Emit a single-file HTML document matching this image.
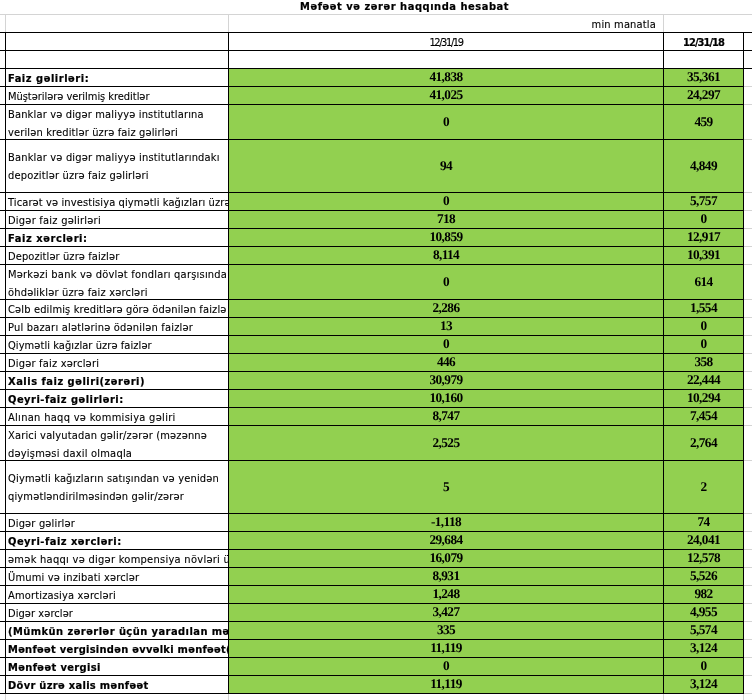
<!DOCTYPE html>
<html lang="az"><head><meta charset="utf-8"><title>Mənfəət və zərər haqqında hesabat</title>
<style>
html,body{margin:0;padding:0;background:#fff}
body{width:752px;height:700px;position:relative;overflow:hidden;-webkit-text-stroke:0.1px #000;font-family:"DejaVu Sans Condensed","DejaVu Sans","Liberation Sans",sans-serif;font-size:11px;color:#000}
div{position:absolute;box-sizing:border-box}
.g{background:#92d050}
.hl{height:1px;background:#000;left:0}
.vl{width:1px;background:#000}
.gh{height:1px;background:#d4d4d4}
.gv{width:1px;background:#d4d4d4}
.t{left:6px;width:222px;overflow:hidden;white-space:nowrap;line-height:17px;padding-left:2px;letter-spacing:0.17px;word-spacing:0px}
.b{-webkit-text-stroke:0.2px #000;font-weight:bold;letter-spacing:0.42px;word-spacing:0px}
.n{-webkit-text-stroke:0;font-family:"Liberation Serif",serif;font-weight:bold;font-size:13.3px;text-align:center;line-height:17px;white-space:nowrap;letter-spacing:-0.6px;text-rendering:geometricPrecision}
.n1{left:229px;width:434px}
.n2{left:664px;width:79px}

</style></head><body>
<div class="g" style="left:229px;top:69px;width:434px;height:624px"></div>
<div class="g" style="left:664px;top:69px;width:79px;height:624px"></div>
<div class="gh" style="left:0;top:14px;width:752px"></div>
<div class="gv" style="left:5px;top:15px;height:17px"></div>
<div class="gv" style="left:228px;top:15px;height:17px"></div>
<div class="gv" style="left:663px;top:15px;height:17px"></div>
<div class="gv" style="left:5px;top:694px;height:6px"></div>
<div class="gv" style="left:228px;top:694px;height:6px"></div>
<div class="gv" style="left:663px;top:694px;height:6px"></div>
<div class="gv" style="left:743px;top:694px;height:6px"></div>
<div class="gh" style="left:744px;top:86px;width:8px"></div>
<div class="gh" style="left:744px;top:104px;width:8px"></div>
<div class="gh" style="left:744px;top:139px;width:8px"></div>
<div class="gh" style="left:744px;top:192px;width:8px"></div>
<div class="gh" style="left:744px;top:210px;width:8px"></div>
<div class="gh" style="left:744px;top:228px;width:8px"></div>
<div class="gh" style="left:744px;top:246px;width:8px"></div>
<div class="gh" style="left:744px;top:264px;width:8px"></div>
<div class="gh" style="left:744px;top:299px;width:8px"></div>
<div class="gh" style="left:744px;top:317px;width:8px"></div>
<div class="gh" style="left:744px;top:335px;width:8px"></div>
<div class="gh" style="left:744px;top:353px;width:8px"></div>
<div class="gh" style="left:744px;top:371px;width:8px"></div>
<div class="gh" style="left:744px;top:389px;width:8px"></div>
<div class="gh" style="left:744px;top:407px;width:8px"></div>
<div class="gh" style="left:744px;top:425px;width:8px"></div>
<div class="gh" style="left:744px;top:460px;width:8px"></div>
<div class="gh" style="left:744px;top:513px;width:8px"></div>
<div class="gh" style="left:744px;top:531px;width:8px"></div>
<div class="gh" style="left:744px;top:549px;width:8px"></div>
<div class="gh" style="left:744px;top:567px;width:8px"></div>
<div class="gh" style="left:744px;top:585px;width:8px"></div>
<div class="gh" style="left:744px;top:603px;width:8px"></div>
<div class="gh" style="left:744px;top:621px;width:8px"></div>
<div class="gh" style="left:744px;top:639px;width:8px"></div>
<div class="gh" style="left:744px;top:657px;width:8px"></div>
<div class="gh" style="left:744px;top:675px;width:8px"></div>
<div class="gh" style="left:744px;top:693px;width:8px"></div>
<div class="hl" style="top:32px;width:752px"></div>
<div class="hl" style="top:50px;width:752px"></div>
<div class="hl" style="top:68px;width:752px"></div>
<div class="hl" style="top:86px;width:744px"></div>
<div class="hl" style="top:104px;width:744px"></div>
<div class="hl" style="top:139px;width:744px"></div>
<div class="hl" style="top:192px;width:744px"></div>
<div class="hl" style="top:210px;width:744px"></div>
<div class="hl" style="top:228px;width:744px"></div>
<div class="hl" style="top:246px;width:744px"></div>
<div class="hl" style="top:264px;width:744px"></div>
<div class="hl" style="top:299px;width:744px"></div>
<div class="hl" style="top:317px;width:744px"></div>
<div class="hl" style="top:335px;width:744px"></div>
<div class="hl" style="top:353px;width:744px"></div>
<div class="hl" style="top:371px;width:744px"></div>
<div class="hl" style="top:389px;width:744px"></div>
<div class="hl" style="top:407px;width:744px"></div>
<div class="hl" style="top:425px;width:744px"></div>
<div class="hl" style="top:460px;width:744px"></div>
<div class="hl" style="top:513px;width:744px"></div>
<div class="hl" style="top:531px;width:744px"></div>
<div class="hl" style="top:549px;width:744px"></div>
<div class="hl" style="top:567px;width:744px"></div>
<div class="hl" style="top:585px;width:744px"></div>
<div class="hl" style="top:603px;width:744px"></div>
<div class="hl" style="top:621px;width:744px"></div>
<div class="hl" style="top:639px;width:744px"></div>
<div class="hl" style="top:657px;width:744px"></div>
<div class="hl" style="top:675px;width:744px"></div>
<div class="hl" style="top:693px;width:744px"></div>
<div class="vl" style="left:5px;top:32px;height:662px"></div>
<div class="vl" style="left:228px;top:32px;height:662px"></div>
<div class="vl" style="left:663px;top:32px;height:662px"></div>
<div class="vl" style="left:743px;top:32px;height:662px"></div>
<div style="left:300px;top:0px;font-weight:bold;-webkit-text-stroke:0.2px #000;white-space:nowrap;line-height:13px;letter-spacing:0.54px;word-spacing:0px">Məfəət və zərər haqqında hesabat</div>
<div style="left:500px;width:156px;top:16px;text-align:right;white-space:nowrap;line-height:17px;letter-spacing:0.17px">min manatla</div>
<div style="left:229px;width:434px;top:34px;text-align:center;white-space:nowrap;line-height:17px;letter-spacing:-1.4px;padding-left:0px">12/31/19</div>
<div style="left:664px;width:79px;top:34px;text-align:center;white-space:nowrap;line-height:17px;font-weight:bold;-webkit-text-stroke:0.2px #000;letter-spacing:-0.95px;padding-left:0px">12/31/18</div>
<div class="t b" style="top:70px"><span style="letter-spacing:0.535px">Faiz gəlirləri:</span></div>
<div class="n n1" style="top:68px">41,838</div><div class="n n2" style="top:68px">35,361</div>
<div class="t" style="top:88px"><span style="letter-spacing:-0.037px">Müştərilərə verilmiş kreditlər</span></div>
<div class="n n1" style="top:86px">41,025</div><div class="n n2" style="top:86px">24,297</div>
<div class="t" style="top:105.5px;line-height:18px"><span style="letter-spacing:0.16px">Banklar və digər maliyyə institutlarına</span><br><span style="letter-spacing:0.142px">verilən kreditlər üzrə faiz gəlirləri</span></div>
<div class="n n1" style="top:112.5px">0</div><div class="n n2" style="top:112.5px">459</div>
<div class="t" style="top:148.5px;line-height:18px"><span style="letter-spacing:0.175px">Banklar və digər maliyyə institutlarındakı</span><br><span style="letter-spacing:0.17px">depozitlər üzrə faiz gəlirləri</span></div>
<div class="n n1" style="top:156.5px">94</div><div class="n n2" style="top:156.5px">4,849</div>
<div class="t" style="top:194px"><span style="letter-spacing:0.115px">Ticarət və investisiya qiymətli kağızları üzrə faizlər</span></div>
<div class="n n1" style="top:192px">0</div><div class="n n2" style="top:192px">5,757</div>
<div class="t" style="top:212px"><span style="letter-spacing:0.234px">Digər faiz gəlirləri</span></div>
<div class="n n1" style="top:210px">718</div><div class="n n2" style="top:210px">0</div>
<div class="t b" style="top:230px"><span style="letter-spacing:0.573px">Faiz xərcləri:</span></div>
<div class="n n1" style="top:228px">10,859</div><div class="n n2" style="top:228px">12,917</div>
<div class="t" style="top:248px"><span style="letter-spacing:0.097px">Depozitlər üzrə faizlər</span></div>
<div class="n n1" style="top:246px">8,114</div><div class="n n2" style="top:246px">10,391</div>
<div class="t" style="top:265.5px;line-height:18px"><span style="letter-spacing:0.219px">Mərkəzi bank və dövlət fondları qarşısında</span><br><span style="letter-spacing:0.184px">öhdəliklər üzrə faiz xərcləri</span></div>
<div class="n n1" style="top:272.5px">0</div><div class="n n2" style="top:272.5px">614</div>
<div class="t" style="top:301px"><span style="letter-spacing:0.147px">Cəlb edilmiş kreditlərə görə ödənilən faizl<span style="letter-spacing:1.6px">ə</span>r</span></div>
<div class="n n1" style="top:299px">2,286</div><div class="n n2" style="top:299px">1,554</div>
<div class="t" style="top:319px"><span style="letter-spacing:0.197px">Pul bazarı alətlərinə ödənilən faizlər</span></div>
<div class="n n1" style="top:317px">13</div><div class="n n2" style="top:317px">0</div>
<div class="t" style="top:337px"><span style="letter-spacing:0.067px">Qiymətli kağızlar üzrə faizlər</span></div>
<div class="n n1" style="top:335px">0</div><div class="n n2" style="top:335px">0</div>
<div class="t" style="top:355px"><span style="letter-spacing:0.192px">Digər faiz xərcləri</span></div>
<div class="n n1" style="top:353px">446</div><div class="n n2" style="top:353px">358</div>
<div class="t b" style="top:373px"><span style="letter-spacing:0.511px">Xalis faiz gəliri(zərəri)</span></div>
<div class="n n1" style="top:371px">30,979</div><div class="n n2" style="top:371px">22,444</div>
<div class="t b" style="top:391px"><span style="letter-spacing:0.49px">Qeyri-faiz gəlirləri:</span></div>
<div class="n n1" style="top:389px">10,160</div><div class="n n2" style="top:389px">10,294</div>
<div class="t" style="top:409px"><span style="letter-spacing:0.303px">Alınan haqq və kommisiya gəliri</span></div>
<div class="n n1" style="top:407px">8,747</div><div class="n n2" style="top:407px">7,454</div>
<div class="t" style="top:426.5px;line-height:18px"><span style="letter-spacing:0.16px">Xarici valyutadan gəlir/zərər (məzənnə</span><br><span style="letter-spacing:0.206px">dəyişməsi daxil olmaqla</span></div>
<div class="n n1" style="top:433.5px">2,525</div><div class="n n2" style="top:433.5px">2,764</div>
<div class="t" style="top:469.5px;line-height:18px"><span style="letter-spacing:0.17px">Qiymətli kağızların satışından və yenidən</span><br><span style="letter-spacing:0.158px">qiymətləndirilməsindən gəlir/zərər</span></div>
<div class="n n1" style="top:477.5px">5</div><div class="n n2" style="top:477.5px">2</div>
<div class="t" style="top:515px"><span style="letter-spacing:0.155px">Digər gəlirlər</span></div>
<div class="n n1" style="top:513px">-1,118</div><div class="n n2" style="top:513px">74</div>
<div class="t b" style="top:533px"><span style="letter-spacing:0.494px">Qeyri-faiz xərcləri:</span></div>
<div class="n n1" style="top:531px">29,684</div><div class="n n2" style="top:531px">24,041</div>
<div class="t" style="top:551px"><span style="letter-spacing:0.275px">əmək haqqı və digər kompensiya növləri üzrə xərclər</span></div>
<div class="n n1" style="top:549px">16,079</div><div class="n n2" style="top:549px">12,578</div>
<div class="t" style="top:569px"><span style="letter-spacing:0.17px">Ümumi və inzibati xərclər</span></div>
<div class="n n1" style="top:567px">8,931</div><div class="n n2" style="top:567px">5,526</div>
<div class="t" style="top:587px"><span style="letter-spacing:0.17px">Amortizasiya xərcləri</span></div>
<div class="n n1" style="top:585px">1,248</div><div class="n n2" style="top:585px">982</div>
<div class="t" style="top:605px"><span style="letter-spacing:0.07px">Digər xərclər</span></div>
<div class="n n1" style="top:603px">3,427</div><div class="n n2" style="top:603px">4,955</div>
<div class="t b" style="top:623px"><span style="letter-spacing:0.45px">(Mümkün zərərlər üçün yaradılan məqsədli ehtiyatlar</span></div>
<div class="n n1" style="top:621px">335</div><div class="n n2" style="top:621px">5,574</div>
<div class="t b" style="top:641px"><span style="letter-spacing:0.28px">Mənfəət vergisindən əvvəlki mənfəət(zərər)</span></div>
<div class="n n1" style="top:639px">11,119</div><div class="n n2" style="top:639px">3,124</div>
<div class="t b" style="top:659px"><span style="letter-spacing:0.362px">Mənfəət vergisi</span></div>
<div class="n n1" style="top:657px">0</div><div class="n n2" style="top:657px">0</div>
<div class="t b" style="top:677px"><span style="letter-spacing:0.311px">Dövr üzrə xalis mənfəət</span></div>
<div class="n n1" style="top:675px">11,119</div><div class="n n2" style="top:675px">3,124</div>
</body></html>
